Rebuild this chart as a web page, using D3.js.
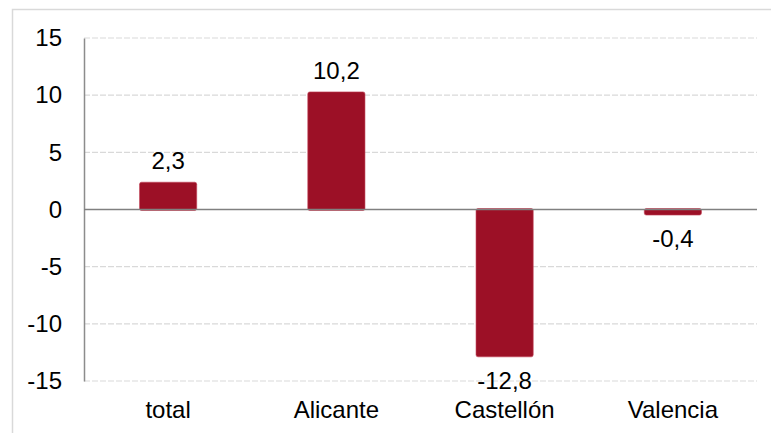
<!DOCTYPE html>
<html>
<head>
<meta charset="utf-8">
<script src="https://cdn.jsdelivr.net/npm/d3@7"></script>
<style>
  html, body { margin: 0; padding: 0; background: #fff; }
  svg { display: block; font-family: "Liberation Sans", Arial, sans-serif; }
</style>
</head>
<body>
<svg id="chart" width="771" height="433"></svg>
<script>
// ── Data ──────────────────────────────────────────────────────────────────────
const CATEGORIES = ['total', 'Alicante', 'Castellón', 'Valencia'];
const VALUES     = [2.3, 10.2, -12.8, -0.4];
const Y_TICKS    = [-15, -10, -5, 0, 5, 10, 15];

const BAR_COLOR = '#9c1026';
const FONT_SIZE = 24;
const fmt = v => String(v).replace('.', ',');

// ── Layout ────────────────────────────────────────────────────────────────────
const svg = d3.select('#chart');
const m = { left: 84, right: 14, top: 38, bottom: 52 };
const W = 771, H = 433;

// Outer frame
svg.append('rect')
    .attr('x', 12.5).attr('y', 9.5)
    .attr('width', 770).attr('height', 440)
    .attr('fill', 'none')
    .attr('stroke', '#d9d9d9')
    .attr('stroke-width', 1.5);

const x = d3.scaleBand()
    .domain(CATEGORIES)
    .range([m.left, W - m.right])
    .paddingInner(0.66)
    .paddingOuter(0.33);

const y = d3.scaleLinear()
    .domain([-15, 15])
    .range([H - m.bottom, m.top]);

// Gridlines
svg.append('g')
    .selectAll('line')
    .data(Y_TICKS.filter(d => d !== 0))
    .join('line')
    .attr('x1', m.left).attr('x2', W - m.right)
    .attr('y1', d => y(d)).attr('y2', d => y(d))
    .attr('stroke', '#d9d9d9')
    .attr('stroke-width', 1.2)
    .attr('stroke-dasharray', '6,2');

// Y axis
const yAxis = svg.append('g')
    .attr('transform', `translate(${m.left},0)`)
    .call(d3.axisLeft(y).tickValues(Y_TICKS).tickSize(0).tickPadding(22)
        .tickFormat(d => String(d)));
yAxis.attr('font-size', FONT_SIZE).attr('font-family', '"Liberation Sans", Arial, sans-serif');
yAxis.select('.domain').attr('stroke', '#8c8c8c').attr('stroke-width', 1.5);
yAxis.selectAll('text').attr('fill', '#000');

// Bars
svg.append('g')
    .selectAll('rect')
    .data(VALUES)
    .join('rect')
    .attr('x', (d, i) => x(CATEGORIES[i]))
    .attr('y', d => y(Math.max(0, d)) - 1)
    .attr('width', x.bandwidth())
    .attr('height', d => Math.abs(y(d) - y(0)) + 2)
    .attr('rx', 2)
    .attr('fill', BAR_COLOR)
    .attr('stroke', '#c2475a')
    .attr('stroke-width', 0.6);

// Zero line
svg.append('line')
    .attr('x1', m.left).attr('x2', W - m.right)
    .attr('y1', y(0)).attr('y2', y(0))
    .attr('stroke', '#808080')
    .attr('stroke-width', 1.5);

// Value labels
svg.append('g')
    .selectAll('text')
    .data(VALUES)
    .join('text')
    .attr('x', (d, i) => x(CATEGORIES[i]) + x.bandwidth() / 2)
    .attr('y', d => d >= 0 ? y(d) - 14 : y(d) + 33)
    .attr('text-anchor', 'middle')
    .attr('font-size', FONT_SIZE)
    .attr('fill', '#000')
    .text(d => fmt(d));

// Category labels
svg.append('g')
    .selectAll('text')
    .data(CATEGORIES)
    .join('text')
    .attr('x', d => x(d) + x.bandwidth() / 2)
    .attr('y', 418)
    .attr('text-anchor', 'middle')
    .attr('font-size', FONT_SIZE)
    .attr('fill', '#000')
    .text(d => d);
</script>
</body>
</html>
